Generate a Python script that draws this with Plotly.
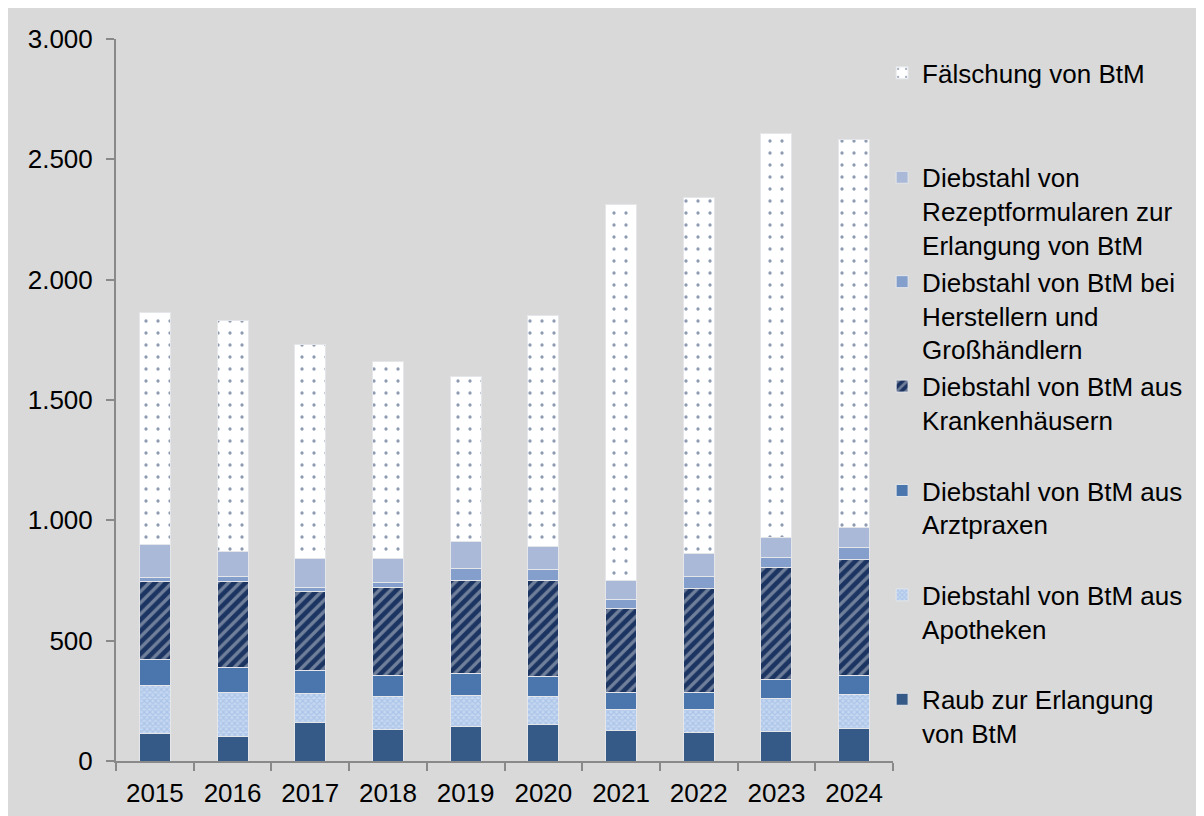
import plotly.graph_objects as go

years = ["2015", "2016", "2017", "2018", "2019", "2020", "2021", "2022", "2023", "2024"]

raub = [113, 103, 159, 129, 143, 150, 126, 118, 122, 136]
apotheken = [201, 180, 122, 137, 131, 120, 90, 94, 138, 141]
arztpraxen = [108, 105, 93, 89, 89, 80, 68, 72, 77, 78]
krankenhaeuser = [322, 357, 330, 366, 389, 399, 349, 431, 467, 482]
hersteller = [18, 20, 17, 21, 46, 47, 40, 50, 42, 50]
rezeptformulare = [137, 105, 122, 98, 113, 94, 79, 97, 82, 82]
faelschung = [964, 962, 888, 818, 686, 963, 1561, 1481, 1678, 1615]

names = [
    "Raub zur Erlangung<br>von BtM<br> ",
    "Diebstahl von BtM aus<br>Apotheken<br> ",
    "Diebstahl von BtM aus<br>Arztpraxen<br> ",
    "Diebstahl von BtM aus<br>Krankenhäusern<br> ",
    "Diebstahl von BtM bei<br>Herstellern und<br>Großhändlern",
    "Diebstahl von<br>Rezeptformularen zur<br>Erlangung von BtM",
    "Fälschung von BtM<br> <br> ",
]

series = [raub, apotheken, arztpraxen, krankenhaeuser, hersteller, rezeptformulare, faelschung]

markers = [
    dict(color="#355a87"),
    dict(color="#b4cbee", pattern=dict(shape="x", fgcolor="#8fb0e0", bgcolor="#c6d8f1", size=4, solidity=0.5)),
    dict(color="#4a76ad"),
    dict(color="#1b3461", pattern=dict(shape="/", fgcolor="#c6cad3", bgcolor="#1b3461", size=8, solidity=0.42)),
    dict(color="#849fcc"),
    dict(color="#aab9d8"),
    dict(color="#ffffff", pattern=dict(shape=".", fgcolor="#1f3864", bgcolor="#ffffff", size=12, solidity=0.06)),
]

fig = go.Figure()
for nm, vals, mk in zip(names, series, markers):
    mk = dict(mk)
    mk["line"] = dict(color="#e4e6ea", width=1)
    fig.add_trace(go.Bar(x=years, y=vals, name=nm, marker=mk))

fig.update_layout(
    barmode="stack",
    bargap=0.6,
    width=1196,
    height=808,
    paper_bgcolor="#d9d9d9",
    plot_bgcolor="#d9d9d9",
    margin=dict(l=108, r=311, t=31, b=55, autoexpand=False),
    separators=",.",
    font=dict(family="Liberation Sans, Arial, sans-serif", size=26, color="#000000"),
    showlegend=True,
    legend=dict(
        traceorder="reversed",
        valign="top",
        xref="paper",
        yref="paper",
        x=0.986,
        y=0.9855,
        xanchor="left",
        yanchor="top",
        maxheight=800,
        bgcolor="rgba(0,0,0,0)",
        font=dict(family="Liberation Sans, Arial, sans-serif", size=26, color="#000000"),
        itemclick=False,
    ),
    xaxis=dict(
        showline=True,
        linecolor="#898989",
        linewidth=2,
        ticks="outside",
        tickson="boundaries",
        ticklen=8,
        tickcolor="#898989",
        tickwidth=2,
        showgrid=False,
        ticklabelstandoff=8,
        tickfont=dict(size=26),
    ),
    yaxis=dict(
        range=[0, 3000],
        dtick=500,
        showline=True,
        linecolor="#898989",
        linewidth=2,
        ticks="outside",
        ticklen=8,
        tickcolor="#898989",
        tickwidth=2,
        showgrid=False,
        zeroline=False,
        separatethousands=True,
        ticklabelstandoff=8,
        tickfont=dict(size=26),
    ),
)

fig.write_html("out.html")
